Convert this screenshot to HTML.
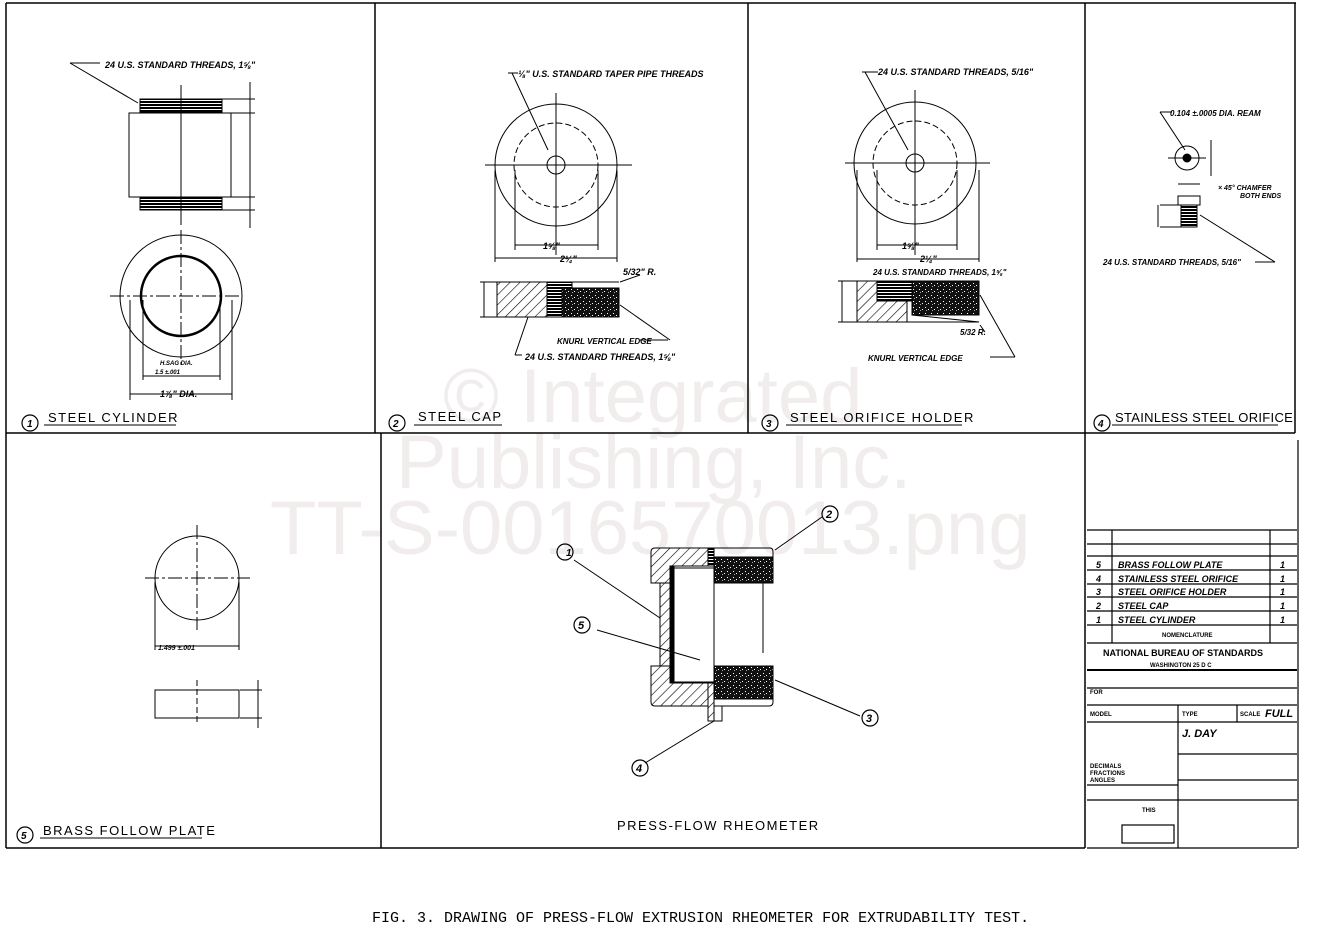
<!DOCTYPE html>
<html><head><style>
html,body{margin:0;padding:0;background:#fff;}
svg{display:block;}
text{font-family:"Liberation Sans",sans-serif;font-style:italic;font-weight:bold;fill:#000;}
.lab{font-style:normal;font-weight:normal;font-size:13px;letter-spacing:1.5px;}
.wm{font-style:normal;font-weight:normal;fill:#f1eded;font-size:76px;}
</style></head><body>
<svg width="1321" height="934" viewBox="0 0 1321 934" xmlns="http://www.w3.org/2000/svg">
<defs>
<pattern id="h" width="7" height="7" patternUnits="userSpaceOnUse" patternTransform="rotate(45)">
<rect width="7" height="7" fill="#fff"/><line x1="0" y1="0" x2="0" y2="7" stroke="#000" stroke-width="1.2"/></pattern>
<pattern id="k" width="6" height="6" patternUnits="userSpaceOnUse">
<rect width="6" height="6" fill="#111"/><rect x="1" y="1" width="1" height="1" fill="#fff"/><rect x="4" y="3" width="1" height="1" fill="#fff"/><rect x="2" y="4" width="1" height="1" fill="#aaa"/></pattern>
<pattern id="t" width="4" height="3" patternUnits="userSpaceOnUse">
<rect width="4" height="3" fill="#000"/><rect y="1" width="4" height="1" fill="#fff"/></pattern>
</defs>
<text class="wm" x="443" y="422">© Integrated</text>
<text class="wm" x="396" y="488">Publishing, Inc.</text>
<text class="wm" x="270" y="554">TT-S-0016570013.png</text>
<g fill="none" stroke="#000" stroke-width="1.5">
<line x1="6" y1="3" x2="6" y2="848"/>
<line x1="6" y1="3" x2="1296" y2="3"/>
<line x1="375" y1="3" x2="375" y2="433"/>
<line x1="748" y1="3" x2="748" y2="433"/>
<line x1="1085" y1="3" x2="1085" y2="848"/>
<line x1="1295" y1="3" x2="1295" y2="433"/>
<line x1="6" y1="433" x2="1295" y2="433"/>
<line x1="381" y1="433" x2="381" y2="848"/>
<line x1="6" y1="848" x2="1085" y2="848"/>
</g>

<g fill="none" stroke="#000" stroke-width="1">
<rect x="140" y="99" width="82" height="13" fill="url(#t)"/>
<rect x="129" y="113" width="102" height="84"/>
<rect x="140" y="198" width="82" height="12" fill="url(#t)"/>
<line x1="181" y1="85" x2="181" y2="225"/>
<line x1="250" y1="82" x2="250" y2="228"/>
<line x1="222" y1="99" x2="255" y2="99"/><line x1="231" y1="113" x2="255" y2="113"/><line x1="231" y1="197" x2="255" y2="197"/><line x1="222" y1="210" x2="255" y2="210"/>
<polyline points="70,63 100,63"/><line x1="70" y1="63" x2="138" y2="103"/>
<circle cx="181" cy="296" r="61"/>
<circle cx="181" cy="296" r="40" stroke-width="2.5"/>
<line x1="110" y1="296" x2="240" y2="296" stroke-dasharray="14 3 3 3"/>
<line x1="181" y1="230" x2="181" y2="365" stroke-dasharray="14 3 3 3"/>
<line x1="143" y1="300" x2="143" y2="380"/><line x1="220" y1="300" x2="220" y2="380"/>
<line x1="143" y1="376" x2="220" y2="376"/>
<line x1="130" y1="300" x2="130" y2="400"/><line x1="232" y1="300" x2="232" y2="400"/>
<line x1="130" y1="394" x2="232" y2="394"/>
<circle cx="556" cy="165" r="61"/>
<circle cx="556" cy="165" r="42" stroke-dasharray="6 3"/>
<circle cx="556" cy="165" r="9"/>
<line x1="485" y1="165" x2="632" y2="165"/>
<line x1="556" y1="93" x2="556" y2="255"/>
<line x1="515" y1="170" x2="515" y2="250"/><line x1="598" y1="170" x2="598" y2="250"/>
<line x1="515" y1="245" x2="598" y2="245"/>
<line x1="495" y1="170" x2="495" y2="262"/><line x1="617" y1="170" x2="617" y2="262"/>
<line x1="495" y1="258" x2="617" y2="258"/>
<line x1="512" y1="73" x2="548" y2="150"/><line x1="508" y1="73" x2="518" y2="73"/>
<rect x="497" y="282" width="50" height="35" fill="url(#h)"/>
<rect x="547" y="282" width="25" height="35" fill="url(#t)"/>
<rect x="562" y="288" width="57" height="29" fill="url(#k)"/>
<line x1="547" y1="282" x2="619" y2="282"/>
<line x1="480" y1="282" x2="497" y2="282"/><line x1="480" y1="317" x2="497" y2="317"/><line x1="484" y1="282" x2="484" y2="317"/>
<line x1="620" y1="282" x2="640" y2="275"/>
<line x1="620" y1="305" x2="670" y2="340"/><line x1="640" y1="340" x2="668" y2="340"/>
<line x1="528" y1="317" x2="515" y2="355"/><line x1="515" y1="355" x2="522" y2="355"/>
<circle cx="915" cy="163" r="61"/>
<circle cx="915" cy="163" r="42" stroke-dasharray="6 3"/>
<circle cx="915" cy="163" r="9"/>
<line x1="845" y1="163" x2="990" y2="163"/>
<line x1="915" y1="90" x2="915" y2="255"/>
<line x1="877" y1="170" x2="877" y2="250"/><line x1="957" y1="170" x2="957" y2="250"/>
<line x1="877" y1="245" x2="957" y2="245"/>
<line x1="857" y1="170" x2="857" y2="262"/><line x1="979" y1="170" x2="979" y2="262"/>
<line x1="857" y1="259" x2="979" y2="259"/>
<line x1="865" y1="72" x2="908" y2="150"/><line x1="862" y1="72" x2="878" y2="72"/>
<rect x="857" y="281" width="50" height="41" fill="url(#h)"/>
<rect x="877" y="281" width="35" height="20" fill="url(#t)"/>
<rect x="912" y="281" width="67" height="34" fill="url(#k)"/>
<line x1="912" y1="315" x2="979" y2="322"/><line x1="907" y1="322" x2="979" y2="322"/>
<line x1="838" y1="281" x2="857" y2="281"/><line x1="838" y1="322" x2="857" y2="322"/><line x1="842" y1="281" x2="842" y2="322"/>
<line x1="980" y1="295" x2="1015" y2="357"/><line x1="990" y1="357" x2="1015" y2="357"/>
<line x1="980" y1="325" x2="985" y2="332"/>
<circle cx="1187" cy="158" r="12"/><circle cx="1187" cy="158" r="4" fill="#000"/>
<line x1="1168" y1="158" x2="1206" y2="158"/>
<line x1="1160" y1="112" x2="1185" y2="150"/><line x1="1160" y1="112" x2="1172" y2="112"/>
<line x1="1211" y1="140" x2="1211" y2="176"/>
<rect x="1178" y="196" width="22" height="9"/>
<rect x="1181" y="205" width="16" height="22" fill="url(#t)"/>
<line x1="1160" y1="205" x2="1181" y2="205"/><line x1="1160" y1="227" x2="1181" y2="227"/><line x1="1158" y1="205" x2="1158" y2="227"/>
<line x1="1200" y1="215" x2="1275" y2="262"/><line x1="1255" y1="262" x2="1275" y2="262"/>
<line x1="1178" y1="184" x2="1200" y2="184"/>
<circle cx="197" cy="578" r="42"/>
<line x1="145" y1="578" x2="250" y2="578" stroke-dasharray="14 3 3 3"/>
<line x1="197" y1="525" x2="197" y2="630" stroke-dasharray="14 3 3 3"/>
<line x1="155" y1="582" x2="155" y2="650"/><line x1="239" y1="582" x2="239" y2="650"/>
<line x1="155" y1="646" x2="239" y2="646"/>
<rect x="155" y="690" width="84" height="28"/>
<line x1="197" y1="680" x2="197" y2="725" stroke-dasharray="6 3"/>
<line x1="240" y1="690" x2="262" y2="690"/><line x1="240" y1="718" x2="262" y2="718"/><line x1="258" y1="680" x2="258" y2="728"/>
<path d="M651 552 Q651 548 655 548 L708 548 L708 566 L670 566 L670 583 L651 583 Z" fill="url(#h)"/>
<rect x="708" y="548" width="6" height="18" fill="url(#t)"/>
<path d="M714 548 L770 548 Q773 548 773 552 L773 557 L714 557 Z"/>
<rect x="714" y="557" width="59" height="26" fill="url(#k)"/>
<rect x="660" y="583" width="14" height="83" fill="url(#h)"/>
<rect x="670" y="566" width="4" height="117" fill="#000"/>
<line x1="674" y1="568" x2="714" y2="568"/><line x1="714" y1="566" x2="714" y2="703"/>
<line x1="674" y1="682" x2="714" y2="682"/>
<line x1="763" y1="583" x2="763" y2="653"/>
<path d="M651 666 L670 666 L670 683 L708 683 L708 706 L655 706 Q651 706 651 702 Z" fill="url(#h)"/>
<rect x="714" y="666" width="59" height="33" fill="url(#k)"/>
<path d="M714 699 L773 699 L773 702 Q773 706 769 706 L714 706"/>
<rect x="708" y="683" width="6" height="38" fill="url(#h)"/>
<rect x="714" y="706" width="8" height="15"/>
<line x1="574" y1="560" x2="660" y2="618"/>
<line x1="597" y1="630" x2="700" y2="660"/>
<line x1="775" y1="550" x2="822" y2="517"/>
<line x1="775" y1="680" x2="860" y2="716"/>
<line x1="645" y1="763" x2="714" y2="721"/>
</g>
<g fill="none" stroke="#000" stroke-width="1.2">
<circle cx="565" cy="552" r="8"/><circle cx="830" cy="514" r="8"/><circle cx="582" cy="625" r="8"/><circle cx="870" cy="718" r="8"/><circle cx="640" cy="768" r="8"/>
<circle cx="30" cy="423" r="8"/><circle cx="397" cy="423" r="8"/><circle cx="770" cy="423" r="8"/><circle cx="1102" cy="423" r="8"/><circle cx="25" cy="835" r="8"/>
</g>
<g style="font-size:10px;font-style:normal;font-weight:normal">
<text x="566" y="556" style="font-size:10px">1</text><text x="826" y="518" style="font-size:11px">2</text><text x="578" y="629" style="font-size:11px">5</text><text x="866" y="722" style="font-size:11px">3</text><text x="636" y="772" style="font-size:11px">4</text>
<text x="27" y="427">1</text><text x="393" y="427">2</text><text x="766" y="427">3</text><text x="1098" y="427">4</text><text x="21" y="839">5</text>
</g>
<text class="lab" x="48" y="422">STEEL  CYLINDER</text><line x1="44" y1="425" x2="176" y2="425" stroke="#000"/>
<text class="lab" x="418" y="421">STEEL  CAP</text><line x1="414" y1="425" x2="502" y2="425" stroke="#000"/>
<text class="lab" x="790" y="422">STEEL  ORIFICE  HOLDER</text><line x1="786" y1="425" x2="962" y2="425" stroke="#000"/>
<text class="lab" x="1115" y="422" style="letter-spacing:0.3px">STAINLESS STEEL ORIFICE</text><line x1="1112" y1="425" x2="1278" y2="425" stroke="#000"/>
<text class="lab" x="43" y="835">BRASS  FOLLOW  PLATE</text><line x1="40" y1="838" x2="202" y2="838" stroke="#000"/>
<text class="lab" x="617" y="830">PRESS-FLOW  RHEOMETER</text>
<text x="105" y="68" style="font-size:9px">24 U.S. STANDARD THREADS, 1⅝"</text>
<text x="518" y="77" style="font-size:9px">⅛" U.S. STANDARD TAPER PIPE THREADS</text>
<text x="878" y="75" style="font-size:9px">24 U.S. STANDARD THREADS, 5/16"</text>
<text x="1170" y="116" style="font-size:8px">0.104 ±.0005 DIA. REAM</text>
<text x="1218" y="190" style="font-size:7px">× 45° CHAMFER</text><text x="1240" y="198" style="font-size:7px">BOTH ENDS</text>
<text x="1103" y="265" style="font-size:8px">24 U.S. STANDARD THREADS, 5/16"</text>
<text x="543" y="249" style="font-size:9px">1⅝"</text><text x="560" y="262" style="font-size:9px">2¼"</text>
<text x="902" y="249" style="font-size:9px">1⅝"</text><text x="920" y="262" style="font-size:9px">2¼"</text>
<text x="623" y="275" style="font-size:9px">5/32" R.</text>
<text x="557" y="344" style="font-size:8px">KNURL VERTICAL EDGE</text>
<text x="525" y="360" style="font-size:9px">24 U.S. STANDARD  THREADS, 1⅝"</text>
<text x="873" y="275" style="font-size:8px">24 U.S. STANDARD THREADS, 1⅝"</text>
<text x="960" y="335" style="font-size:8px">5/32 R.</text>
<text x="868" y="361" style="font-size:8px">KNURL   VERTICAL  EDGE</text>
<text x="160" y="365" style="font-size:6px">H.SAG DIA.</text><text x="155" y="374" style="font-size:6px">1.5 ±.001</text>
<text x="160" y="397" style="font-size:9px">1⅞" DIA.</text>
<text x="158" y="650" style="font-size:7px">1.499 ±.001</text>

<g fill="none" stroke="#000" stroke-width="1.2">
<line x1="1298" y1="440" x2="1298" y2="848"/>
<line x1="1087" y1="530" x2="1297" y2="530"/>
<line x1="1087" y1="544" x2="1297" y2="544"/>
<line x1="1087" y1="556" x2="1297" y2="556"/>
<line x1="1087" y1="570" x2="1297" y2="570"/>
<line x1="1087" y1="584" x2="1297" y2="584"/>
<line x1="1087" y1="597" x2="1297" y2="597"/>
<line x1="1087" y1="611" x2="1297" y2="611"/>
<line x1="1087" y1="625" x2="1297" y2="625"/>
<line x1="1087" y1="643" x2="1297" y2="643"/>
<line x1="1087" y1="670" x2="1297" y2="670" stroke-width="2"/>
<line x1="1087" y1="688" x2="1297" y2="688"/>
<line x1="1087" y1="705" x2="1297" y2="705"/>
<line x1="1112" y1="530" x2="1112" y2="643"/>
<line x1="1270" y1="530" x2="1270" y2="643"/>
<line x1="1178" y1="705" x2="1178" y2="848"/>
<line x1="1237" y1="705" x2="1237" y2="722"/>
<line x1="1087" y1="722" x2="1297" y2="722"/>
<line x1="1178" y1="754" x2="1297" y2="754"/>
<line x1="1178" y1="780" x2="1297" y2="780"/>
<line x1="1087" y1="785" x2="1178" y2="785"/>
<line x1="1178" y1="800" x2="1297" y2="800"/>
<line x1="1087" y1="800" x2="1178" y2="800"/>
<rect x="1122" y="825" width="52" height="18"/>
<line x1="1087" y1="848" x2="1297" y2="848"/>
</g>
<g style="font-size:9px">
<text x="1096" y="568">5</text><text x="1118" y="568">BRASS  FOLLOW  PLATE</text><text x="1280" y="568">1</text>
<text x="1096" y="582">4</text><text x="1118" y="582">STAINLESS STEEL ORIFICE</text><text x="1280" y="582">1</text>
<text x="1096" y="595">3</text><text x="1118" y="595">STEEL  ORIFICE HOLDER</text><text x="1280" y="595">1</text>
<text x="1096" y="609">2</text><text x="1118" y="609">STEEL  CAP</text><text x="1280" y="609">1</text>
<text x="1096" y="623">1</text><text x="1118" y="623">STEEL   CYLINDER</text><text x="1280" y="623">1</text>
</g>
<text x="1162" y="637" style="font-size:6px;font-style:normal">NOMENCLATURE</text>
<text x="1103" y="656" style="font-size:9px;font-style:normal">NATIONAL BUREAU OF STANDARDS</text>
<text x="1150" y="667" style="font-size:6px;font-style:normal">WASHINGTON 25 D C</text>
<text x="1090" y="694" style="font-size:6px;font-style:normal">FOR</text>
<text x="1090" y="716" style="font-size:6px;font-style:normal">MODEL</text>
<text x="1182" y="716" style="font-size:6px;font-style:normal">TYPE</text>
<text x="1240" y="716" style="font-size:6px;font-style:normal">SCALE</text><text x="1265" y="717" style="font-size:11px">FULL</text>
<text x="1182" y="737" style="font-size:11px">J. DAY</text>
<text x="1090" y="768" style="font-size:6px;font-style:normal">DECIMALS</text>
<text x="1090" y="775" style="font-size:6px;font-style:normal">FRACTIONS</text>
<text x="1090" y="782" style="font-size:6px;font-style:normal">ANGLES</text>
<text x="1142" y="812" style="font-size:6px;font-style:normal">THIS</text>

<text x="372" y="922" style="font-family:'Liberation Mono',monospace;font-style:normal;font-weight:normal;font-size:15px">FIG. 3.  DRAWING OF PRESS-FLOW EXTRUSION RHEOMETER FOR EXTRUDABILITY TEST.</text>
</svg>
</body></html>
